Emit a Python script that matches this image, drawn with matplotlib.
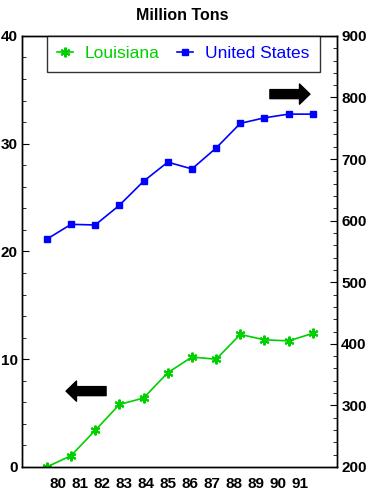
import matplotlib
matplotlib.use("Agg")
import matplotlib.pyplot as plt
from matplotlib.ticker import MultipleLocator

# data
years = ["80", "81", "82", "83", "84", "85", "86", "87", "88", "89", "90", "91"]
louisiana = [0.0, 1.05, 3.4, 5.8, 6.4, 8.75, 10.2, 10.0, 12.3, 11.8, 11.7, 12.4]
united_states = [570, 594, 593, 625, 664, 695, 684, 718, 758, 767, 773, 773]

GREEN = "#00d000"
BLUE = "#0000ff"

plt.rcParams['font.family'] = ['Liberation Sans', 'DejaVu Sans']

fig = plt.figure(figsize=(3.72, 4.94), dpi=100)
ax = fig.add_axes([0.059, 0.0547, 0.847, 0.8726])
ax2 = ax.twinx()

x = list(range(len(years)))
l1, = ax.plot(x, louisiana, color=GREEN, lw=1.2, marker=(6, 2, 0), ms=7, mew=1.5,
              label="Louisiana")
l2, = ax2.plot(x, united_states, color=BLUE, lw=1.2, marker="s", ms=5,
               label="United States")

ax.set_xlim(-1.03, 12.0)
ax.set_ylim(0, 40)
ax2.set_ylim(200, 900)

# labels sit a bit off the points in the original
ax.set_xticks([0.45 + 0.91 * i for i in range(len(years))])
ax.set_xticklabels(years, fontsize=11, fontweight="bold")
ax.tick_params(axis="x", length=0, pad=7)

ax.yaxis.set_major_locator(MultipleLocator(10))
ax.yaxis.set_minor_locator(MultipleLocator(2))
ax2.yaxis.set_major_locator(MultipleLocator(100))
ax2.yaxis.set_minor_locator(MultipleLocator(20))
ax.tick_params(axis="y", which="major", direction="in", length=5, labelsize=11, pad=3)
ax.tick_params(axis="y", which="minor", direction="in", length=3)
ax2.tick_params(axis="y", which="major", direction="in", length=5, labelsize=11, pad=3)
ax2.tick_params(axis="y", which="minor", direction="in", length=3)
for lab in ax.get_yticklabels() + ax2.get_yticklabels():
    lab.set_fontweight("bold")

for a in (ax, ax2):
    for s in ("left", "right", "bottom", "top"):
        a.spines[s].set_linewidth(1.0)

fig.text(0.49, 0.969, "Million Tons", ha="center", va="center", fontsize=11.5,
         fontweight="bold")

leg = ax2.legend([l1, l2], ["Louisiana", "United States"], ncol=2,
                 loc="upper left", bbox_to_anchor=(0.079, 0.0, 0.867, 1.0),
                 mode="expand", fontsize=12.5, frameon=True, fancybox=False,
                 edgecolor="black", handlelength=0.9, handletextpad=0.7,
                 borderaxespad=0.0, borderpad=0.6, columnspacing=1.0)
leg.get_frame().set_linewidth(1.0)
for txt, c in zip(leg.get_texts(), (GREEN, BLUE)):
    txt.set_color(c)

# direction arrows
arrow = dict(arrowstyle="simple,head_width=1.45,head_length=0.75,tail_width=0.65",
             color="black", mutation_scale=10, shrinkA=0, shrinkB=0)
ax2.annotate("", xy=(0.914, 0.865), xytext=(0.787, 0.865),
             xycoords="axes fraction", arrowprops=arrow)
ax2.annotate("", xy=(0.140, 0.176), xytext=(0.267, 0.176),
             xycoords="axes fraction", arrowprops=arrow)

fig.savefig("out.png", dpi=100)
